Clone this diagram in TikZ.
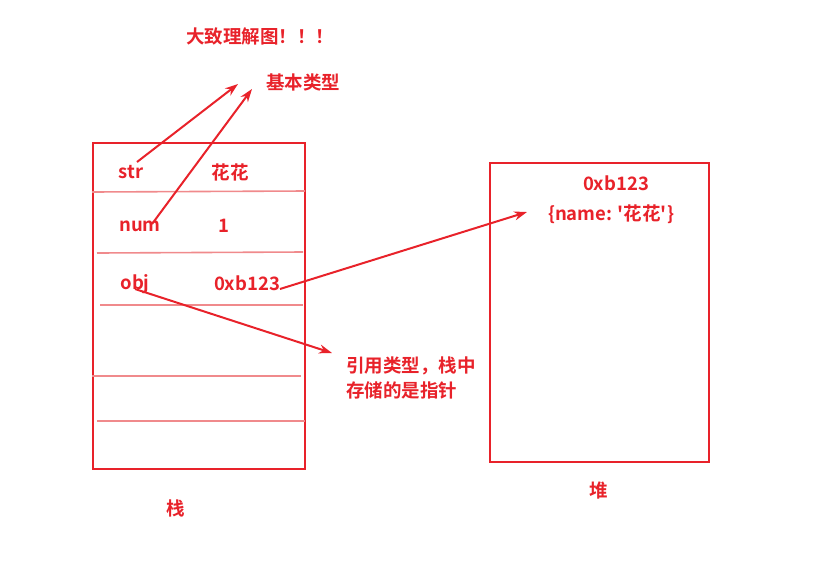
\documentclass[tikz,border=0pt]{standalone}
\usepackage{fontspec}
\newfontfamily\cjk{Noto Sans CJK SC}[BoldFont={Noto Sans CJK SC Bold}]
\usetikzlibrary{arrows.meta}
\definecolor{ired}{HTML}{E8222A}
\definecolor{lred}{HTML}{F08A8C}
\tikzset{
  lbl/.style={text=ired, font=\cjk\fontsize{18.5}{22}\selectfont\bfseries, inner sep=0pt, anchor=center},
  boxline/.style={draw=ired, line width=2pt},
  sep/.style={draw=lred, line width=1.6pt},
  arr/.style={draw=ired, line width=2pt, -{Stealth[length=13pt,width=9pt]}}
}
\begin{document}
\begin{tikzpicture}[x=1pt,y=-1pt]
\useasboundingbox (0,0) rectangle (818,574);
% stack box
\node[boxline, minimum width=212pt, minimum height=326pt, inner sep=0pt, anchor=north west] (stack) at (92,142) {};
\draw[sep] (92,192) -- (305,191);
\draw[sep] (97,253) -- (303,252);
\draw[sep] (100,305) -- (303,305);
\draw[sep] (92,376) -- (301,376);
\draw[sep] (97,421) -- (305,421);
% heap box
\node[boxline, minimum width=219pt, minimum height=299pt, inner sep=0pt, anchor=north west] (heap) at (489,162) {};
% texts
\node[lbl] (title) at (260,36) {大致理解图！！！};
\node[lbl] (basic) at (303,82) {基本类型};
\node[lbl] (str) at (131,172) {str};
\node[lbl] (hh) at (230,172) {花花};
\node[lbl] (num) at (140,226) {num};
\node[lbl] (one) at (224,226) {1};
\node[lbl] (obj) at (135,284) {obj};
\node[lbl] (addr) at (247,283) {0xb123};
\node[lbl] (haddr) at (616,183) {0xb123};
\node[lbl] (hobj) at (611,214) {\{name: '花花'\}};
\node[lbl, anchor=west] (ref1) at (346,366) {引用类型，栈中};
\node[lbl, anchor=west] (ref2) at (346,390) {存储的是指针};
\node[lbl] (zhan) at (176,508) {栈};
\node[lbl] (dui) at (599,491) {堆};
% arrow endpoints
\coordinate (s1) at (137,162);
\coordinate (t1) at (238,84);
\coordinate (s2) at (152,224);
\coordinate (t2) at (252,89);
\coordinate (s3) at (280,289);
\coordinate (t3) at (527,212);
\coordinate (s4) at (135,289);
\coordinate (t4) at (332,353);
\draw[arr] (s1) -- (t1);
\draw[arr] (s2) -- (t2);
\draw[arr] (s3) -- (t3);
\draw[arr] (s4) -- (t4);
\end{tikzpicture}
\end{document}
